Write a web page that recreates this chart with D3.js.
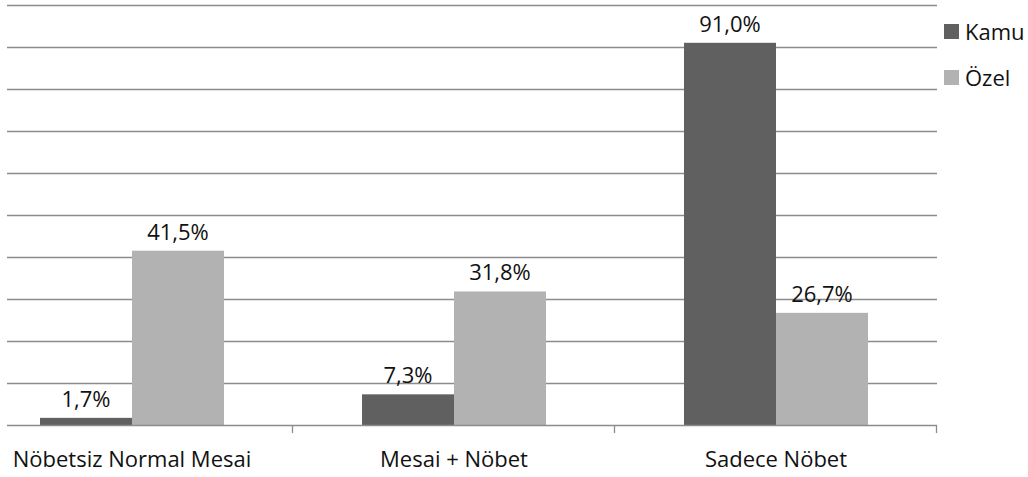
<!DOCTYPE html>
<html>
<head>
<meta charset="utf-8">
<script src="https://cdn.jsdelivr.net/npm/d3@7"></script>
<style>
  html, body { margin: 0; padding: 0; background: #fff; }
  svg { display: block; }
  text { font-family: "Open Sans", Lato, sans-serif; fill: #111; }
</style>
</head>
<body>
<svg id="chart" width="1028" height="477"></svg>
<script>
// Working-hours arrangement by sector (% of respondents)
const categories = ["Nöbetsiz Normal Mesai", "Mesai + Nöbet", "Sadece Nöbet"];
const seriesNames = ["Kamu", "Özel"];
const kamuValues = [1.7, 7.3, 91.0];
const ozelValues = [41.5, 31.8, 26.7];
const yTicks = [0, 10, 20, 30, 40, 50, 60, 70, 80, 90, 100];

const colors = { "Kamu": "#606060", "Özel": "#b2b2b2" };
const fmt = v => d3.format(".1f")(v).replace(".", ",") + "%";
const fontSize = "22px";

const svg = d3.select("#chart");

// Plot area: categories occupy equal bands; the first band starts off-canvas
const plotLeft = 7, plotRight = 937, baseY = 425, topY = 5;
const bandW = (plotRight - plotLeft + 36) / 3;

const x = d3.scaleBand()
  .domain(categories)
  .range([plotRight - bandW * 3, plotRight])
  .paddingInner(0)
  .paddingOuter(0);

const inner = d3.scaleBand()
  .domain(seriesNames)
  .range([0, x.bandwidth()])
  .paddingOuter(0.75)
  .paddingInner(0);

const y = d3.scaleLinear().domain([0, 100]).range([baseY, topY]);

// Horizontal gridlines
svg.append("g")
  .selectAll("line")
  .data(yTicks.slice(1))
  .join("line")
  .attr("x1", plotLeft)
  .attr("x2", plotRight)
  .attr("y1", d => Math.round(y(d)) + 0.5)
  .attr("y2", d => Math.round(y(d)) + 0.5)
  .attr("stroke", "#8c8c8c")
  .attr("stroke-width", 1.3);

// Bars
const data = categories.map((c, i) => ({
  category: c,
  values: [
    { series: "Kamu", value: kamuValues[i] },
    { series: "Özel", value: ozelValues[i] }
  ]
}));

const groups = svg.append("g")
  .selectAll("g")
  .data(data)
  .join("g")
  .attr("transform", d => `translate(${x(d.category)},0)`);

groups.selectAll("rect")
  .data(d => d.values)
  .join("rect")
  .attr("x", d => inner(d.series))
  .attr("width", inner.bandwidth())
  .attr("y", d => y(d.value))
  .attr("height", d => y(0) - y(d.value))
  .attr("fill", d => colors[d.series]);

// Value labels
groups.selectAll("text")
  .data(d => d.values)
  .join("text")
  .attr("x", d => inner(d.series) + inner.bandwidth() / 2)
  .attr("y", d => y(d.value) - 11)
  .attr("text-anchor", "middle")
  .style("font-size", fontSize)
  .text(d => fmt(d.value));

// Category axis
const xAxis = svg.append("g")
  .attr("transform", `translate(0,${baseY})`);

xAxis.append("line")
  .attr("x1", plotLeft)
  .attr("x2", plotRight)
  .attr("y1", 0.5)
  .attr("y2", 0.5)
  .attr("stroke", "#8c8c8c")
  .attr("stroke-width", 1.3);

const tickXs = categories.map(c => x(c) + x.bandwidth());
xAxis.selectAll("line.tick")
  .data(tickXs)
  .join("line")
  .attr("class", "tick")
  .attr("x1", d => Math.round(d) - 0.5)
  .attr("x2", d => Math.round(d) - 0.5)
  .attr("y1", 0)
  .attr("y2", 8)
  .attr("stroke", "#8c8c8c")
  .attr("stroke-width", 1.3);

xAxis.selectAll("text")
  .data(categories)
  .join("text")
  .attr("x", d => x(d) + x.bandwidth() / 2)
  .attr("y", 42)
  .attr("text-anchor", "middle")
  .style("font-size", fontSize)
  .text(d => d);

// Legend
const legend = svg.append("g")
  .attr("transform", "translate(944,24)");

const items = legend.selectAll("g")
  .data(seriesNames)
  .join("g")
  .attr("transform", (d, i) => `translate(0,${i * 46})`);

items.append("rect")
  .attr("width", 15)
  .attr("height", 15)
  .attr("fill", d => colors[d]);

items.append("text")
  .attr("x", 21)
  .attr("y", 16)
  .style("font-size", fontSize)
  .text(d => d);
</script>
</body>
</html>
